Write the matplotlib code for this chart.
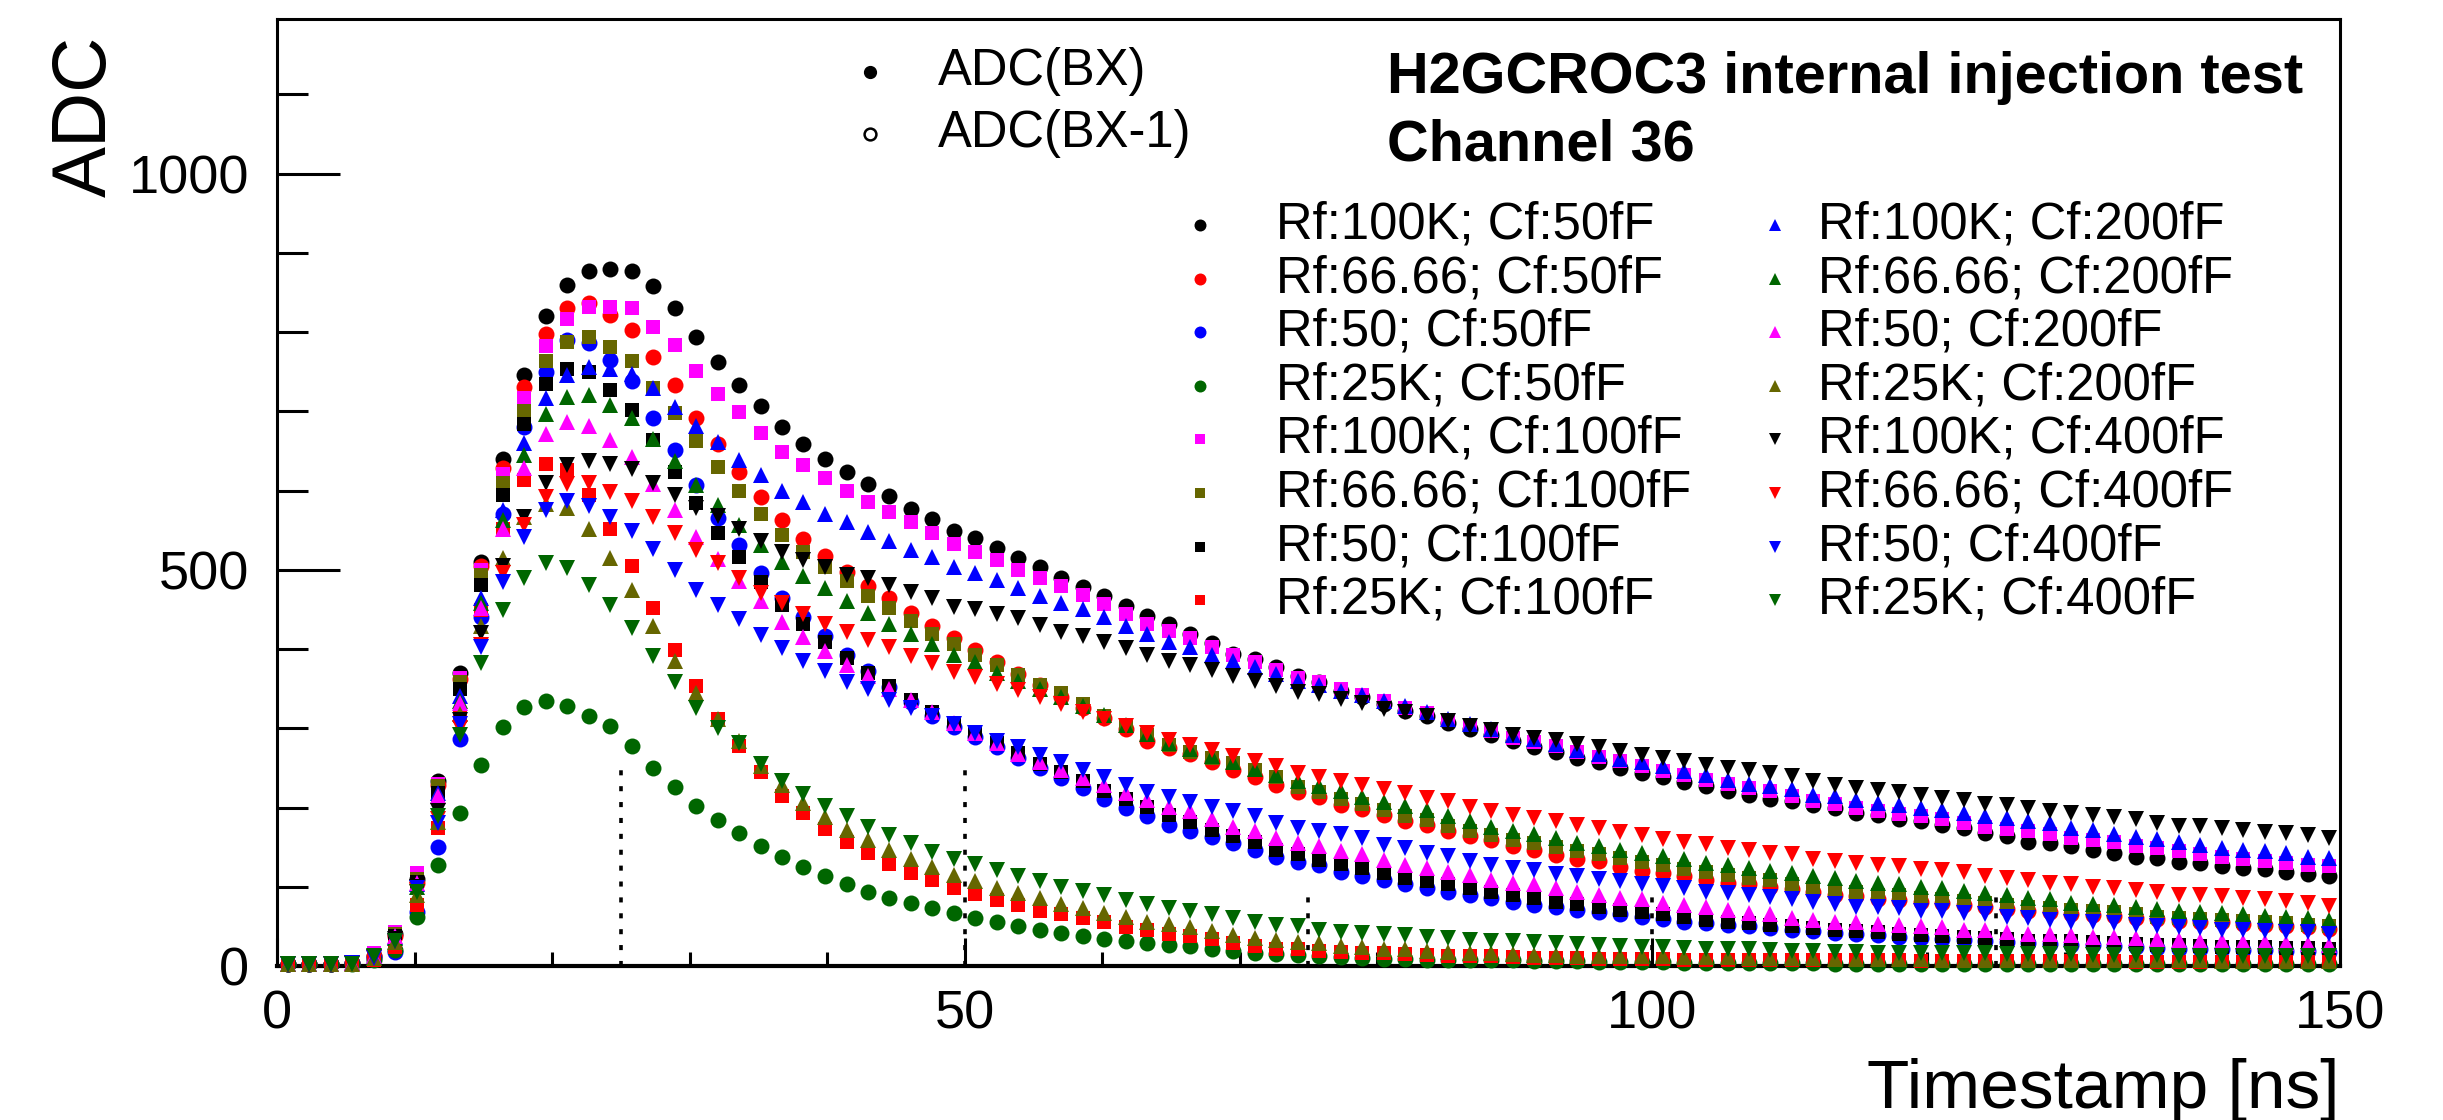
import matplotlib
matplotlib.use('Agg')
import matplotlib.pyplot as plt
from matplotlib.ticker import MultipleLocator

plt.rcParams['font.family'] = ['Liberation Sans', 'DejaVu Sans']

# Sampling points [ns] (one every 25/16 ns)
timestamp = [
    0.78, 2.34, 3.91, 5.47, 7.03, 8.59, 10.16, 11.72, 13.28, 14.84,
    16.41, 17.97, 19.53, 21.09, 22.66, 24.22, 25.78, 27.34, 28.91, 30.47,
    32.03, 33.59, 35.16, 36.72, 38.28, 39.84, 41.41, 42.97, 44.53, 46.09,
    47.66, 49.22, 50.78, 52.34, 53.91, 55.47, 57.03, 58.59, 60.16, 61.72,
    63.28, 64.84, 66.41, 67.97, 69.53, 71.09, 72.66, 74.22, 75.78, 77.34,
    78.91, 80.47, 82.03, 83.59, 85.16, 86.72, 88.28, 89.84, 91.41, 92.97,
    94.53, 96.09, 97.66, 99.22, 100.78, 102.34, 103.91, 105.47, 107.03, 108.59,
    110.16, 111.72, 113.28, 114.84, 116.41, 117.97, 119.53, 121.09, 122.66, 124.22,
    125.78, 127.34, 128.91, 130.47, 132.03, 133.59, 135.16, 136.72, 138.28, 139.84,
    141.41, 142.97, 144.53, 146.09, 147.66, 149.22,
]

# ADC(BX) per configuration
adc_100k_50 = [
    2, 2, 3, 4, 13, 40, 110, 234, 370, 510,
    640, 746, 820, 860, 877, 879, 877, 858, 830, 794,
    762, 733, 707, 680, 659, 640, 623, 608, 593, 577,
    564, 549, 540, 527, 515, 503, 490, 478, 467, 454,
    442, 431, 419, 408, 394, 387, 377, 366, 358, 347,
    339, 330, 322, 316, 307, 299, 292, 284, 276, 270,
    263, 257, 250, 244, 238, 232, 227, 221, 216, 211,
    208, 203, 200, 193, 190, 185, 183, 178, 174, 168,
    164, 157, 155, 152, 147, 143, 138, 136, 131, 130,
    126, 124, 122, 119, 116, 114,
]
adc_6666_50 = [
    2, 2, 3, 4, 12, 38, 105, 228, 362, 505,
    629, 731, 797, 830, 837, 822, 803, 769, 733, 692,
    659, 623, 592, 563, 539, 517, 497, 479, 464, 445,
    429, 414, 399, 383, 368, 354, 339, 326, 313, 299,
    284, 275, 267, 258, 247, 238, 228, 219, 213, 203,
    198, 191, 183, 178, 170, 164, 159, 152, 147, 140,
    135, 132, 125, 120, 117, 113, 109, 105, 103, 100,
    97, 93, 90, 88, 85, 83, 81, 79, 77, 74,
    72, 70, 68, 66, 64, 63, 61, 59, 57, 56,
    55, 53, 52, 50, 49, 47,
]
adc_50_50 = [
    2, 2, 3, 4, 10, 18, 68, 150, 287, 440,
    570, 680, 750, 790, 786, 765, 738, 692, 651, 607,
    565, 531, 496, 465, 440, 417, 393, 372, 352, 333,
    315, 302, 289, 276, 263, 250, 237, 224, 211, 200,
    189, 178, 170, 163, 155, 146, 138, 131, 127, 119,
    114, 109, 104, 98, 94, 90, 86, 81, 77, 75,
    71, 68, 65, 62, 59, 56, 54, 52, 50, 48,
    46, 44, 42, 40, 39, 37, 35, 34, 33, 31,
    30, 29, 28, 27, 26, 25, 24, 23, 22, 21,
    21, 20, 20, 19, 19, 18,
]
adc_25k_50 = [
    2, 2, 2, 3, 8, 20, 62, 127, 193, 254,
    301, 327, 334, 328, 316, 303, 277, 250, 226, 202,
    184, 168, 152, 138, 125, 113, 104, 94, 86, 79,
    73, 67, 61, 56, 51, 46, 42, 38, 34, 31,
    29, 27, 25, 22, 19, 17, 15, 14, 12, 11,
    10, 9, 9, 8, 8, 7, 7, 7, 6, 6,
    6, 5, 5, 5, 5, 4, 4, 4, 4, 4,
    4, 4, 3, 3, 3, 3, 3, 3, 3, 3,
    3, 3, 3, 2, 2, 2, 2, 2, 2, 2,
    2, 2, 2, 2, 2, 2,
]
adc_100k_100 = [
    2, 2, 3, 5, 16, 43, 117, 230, 364, 500,
    621, 717, 782, 816, 832, 831, 830, 807, 784, 751,
    722, 699, 673, 649, 632, 616, 600, 586, 573, 560,
    546, 533, 523, 512, 500, 490, 479, 468, 457, 444,
    432, 423, 414, 403, 392, 383, 373, 364, 358, 349,
    342, 335, 326, 319, 311, 304, 297, 288, 283, 277,
    270, 264, 259, 252, 246, 241, 235, 230, 225, 221,
    214, 208, 204, 200, 195, 192, 189, 186, 181, 176,
    173, 170, 167, 162, 159, 156, 152, 149, 145, 141,
    138, 135, 132, 130, 128, 126,
]
adc_6666_100 = [
    2, 2, 3, 4, 13, 40, 110, 227, 358, 494,
    610, 700, 763, 788, 794, 781, 763, 730, 698, 663,
    630, 599, 571, 544, 523, 503, 486, 467, 452, 435,
    419, 406, 393, 380, 367, 354, 344, 331, 316, 303,
    291, 279, 270, 262, 256, 247, 238, 226, 219, 211,
    205, 197, 189, 184, 177, 170, 165, 159, 155, 150,
    145, 141, 136, 131, 127, 122, 119, 115, 111, 108,
    103, 98, 95, 93, 90, 89, 86, 84, 82, 79,
    77, 75, 73, 71, 69, 68, 65, 62, 60, 59,
    58, 57, 56, 54, 52, 50,
]
adc_50_100 = [
    2, 2, 3, 4, 12, 38, 106, 218, 350, 481,
    595, 684, 734, 754, 750, 727, 702, 664, 623, 584,
    546, 516, 484, 455, 432, 409, 389, 370, 353, 336,
    320, 307, 294, 281, 269, 255, 245, 234, 221, 211,
    201, 190, 182, 172, 164, 156, 147, 141, 134, 129,
    124, 117, 111, 107, 103, 98, 94, 90, 86, 81,
    78, 74, 71, 68, 65, 62, 58, 56, 54, 52,
    50, 48, 46, 44, 43, 41, 39, 38, 37, 35,
    34, 32, 32, 31, 30, 29, 28, 27, 26, 25,
    24, 24, 24, 23, 23, 22,
]
adc_25k_100 = [
    2, 2, 2, 3, 8, 24, 77, 174, 315, 449,
    551, 613, 634, 626, 595, 551, 505, 452, 399, 353,
    312, 278, 245, 215, 193, 173, 156, 142, 129, 117,
    108, 98, 91, 83, 77, 70, 65, 60, 55, 49,
    45, 41, 38, 34, 29, 25, 22, 21, 19, 18,
    17, 16, 15, 14, 13, 13, 12, 11, 10, 10,
    10, 9, 9, 9, 9, 8, 8, 8, 8, 8,
    7, 7, 7, 7, 7, 7, 6, 6, 6, 6,
    6, 6, 6, 6, 6, 6, 5, 5, 5, 5,
    5, 5, 5, 5, 5, 5,
]
adc_100k_200 = [
    2, 2, 3, 4, 12, 37, 104, 218, 341, 464,
    575, 660, 717, 746, 756, 753, 747, 730, 705, 682,
    661, 639, 620, 600, 586, 570, 560, 548, 536, 525,
    516, 503, 496, 487, 477, 467, 458, 450, 440, 429,
    419, 409, 403, 393, 385, 377, 368, 360, 354, 347,
    342, 335, 328, 321, 312, 305, 299, 292, 286, 280,
    273, 267, 261, 257, 252, 246, 241, 235, 230, 227,
    223, 216, 214, 210, 206, 203, 200, 197, 193, 189,
    187, 183, 180, 174, 172, 166, 163, 160, 156, 153,
    149, 147, 145, 143, 138, 136,
]
adc_6666_200 = [
    2, 2, 3, 4, 11, 35, 100, 214, 335, 458,
    563, 645, 696, 718, 721, 708, 692, 665, 637, 607,
    582, 556, 531, 510, 492, 477, 461, 445, 432, 419,
    406, 393, 383, 370, 360, 350, 339, 328, 317, 304,
    293, 282, 274, 265, 257, 249, 241, 233, 227, 221,
    213, 207, 202, 197, 189, 183, 176, 170, 166, 162,
    155, 152, 147, 143, 139, 135, 130, 127, 124, 120,
    117, 113, 111, 107, 105, 103, 100, 98, 95, 92,
    90, 86, 84, 80, 78, 77, 74, 72, 70, 68,
    67, 65, 63, 62, 60, 58,
]
adc_50_200 = [
    2, 2, 3, 4, 13, 38, 105, 215, 332, 452,
    551, 629, 671, 687, 682, 664, 642, 608, 575, 542,
    513, 486, 460, 434, 415, 397, 380, 366, 349, 336,
    320, 307, 294, 281, 268, 258, 247, 237, 228, 218,
    209, 201, 195, 186, 176, 170, 162, 155, 152, 145,
    141, 134, 128, 124, 119, 115, 109, 105, 103, 98,
    94, 90, 86, 84, 79, 77, 75, 71, 67, 65,
    60, 58, 56, 55, 53, 52, 50, 49, 46, 46,
    43, 41, 40, 39, 37, 36, 35, 34, 33, 32,
    31, 30, 30, 29, 28, 27,
]
adc_25k_200 = [
    2, 2, 2, 3, 10, 30, 90, 182, 318, 429,
    515, 566, 583, 578, 551, 515, 474, 429, 385, 344,
    312, 284, 253, 228, 206, 188, 172, 159, 146, 135,
    125, 115, 107, 99, 92, 86, 78, 73, 67, 62,
    56, 53, 49, 44, 39, 35, 33, 30, 29, 25,
    24, 22, 21, 19, 18, 17, 16, 15, 14, 14,
    13, 13, 12, 12, 12, 11, 11, 11, 10, 10,
    10, 10, 9, 9, 9, 9, 9, 8, 8, 8,
    8, 8, 8, 7, 7, 7, 7, 7, 7, 7,
    6, 6, 6, 6, 6, 6,
]
adc_100k_400 = [
    2, 2, 3, 4, 11, 34, 100, 195, 310, 420,
    505, 566, 610, 632, 637, 633, 627, 610, 594, 578,
    568, 552, 536, 523, 512, 503, 494, 490, 481, 472,
    464, 453, 451, 444, 439, 430, 422, 417, 409, 401,
    393, 385, 380, 374, 366, 360, 353, 346, 343, 337,
    332, 324, 320, 316, 309, 303, 298, 292, 288, 285,
    280, 276, 271, 266, 263, 259, 254, 250, 247, 244,
    240, 234, 229, 225, 222, 219, 216, 212, 209, 205,
    203, 200, 195, 193, 191, 188, 185, 181, 177, 177,
    174, 172, 169, 168, 165, 161,
]
adc_6666_400 = [
    2, 2, 3, 4, 10, 32, 96, 185, 300, 405,
    496, 556, 592, 608, 609, 598, 587, 566, 547, 525,
    508, 490, 471, 458, 444, 432, 422, 411, 403, 391,
    382, 371, 365, 356, 348, 339, 331, 321, 312, 303,
    294, 285, 279, 272, 265, 259, 252, 244, 239, 233,
    228, 223, 218, 212, 208, 201, 195, 191, 187, 183,
    178, 174, 169, 165, 160, 156, 154, 149, 147, 143,
    141, 135, 132, 130, 128, 126, 122, 121, 118, 114,
    111, 109, 105, 103, 100, 98, 96, 94, 90, 89,
    88, 86, 84, 82, 80, 76,
]
adc_50_400 = [
    2, 2, 3, 4, 10, 32, 98, 180, 306, 402,
    484, 541, 575, 587, 581, 566, 549, 526, 500, 475,
    455, 438, 418, 401, 385, 372, 359, 349, 336, 326,
    315, 305, 294, 284, 276, 266, 257, 247, 239, 229,
    220, 213, 207, 201, 195, 189, 181, 174, 170, 166,
    162, 153, 149, 143, 139, 132, 128, 124, 121, 116,
    113, 110, 107, 104, 101, 98, 94, 92, 89, 87,
    84, 81, 78, 75, 74, 73, 70, 69, 67, 65,
    62, 60, 58, 56, 55, 54, 52, 50, 49, 48,
    46, 46, 44, 43, 43, 41,
]
adc_25k_400 = [
    2, 2, 2, 3, 12, 31, 94, 189, 291, 382,
    449, 490, 508, 502, 481, 455, 426, 391, 358, 326,
    300, 281, 255, 234, 217, 202, 189, 176, 165, 155,
    144, 135, 129, 121, 113, 107, 100, 95, 89, 83,
    78, 73, 69, 65, 60, 56, 52, 50, 46, 43,
    42, 41, 39, 37, 35, 33, 32, 31, 30, 29,
    28, 27, 25, 24, 24, 23, 22, 21, 21, 20,
    19, 19, 18, 18, 17, 17, 17, 16, 16, 16,
    15, 15, 15, 15, 14, 14, 14, 14, 13, 13,
    13, 13, 13, 12, 12, 12,
]

labels = [
    'Rf:100K; Cf:50fF', 'Rf:66.66; Cf:50fF', 'Rf:50; Cf:50fF', 'Rf:25K; Cf:50fF',
    'Rf:100K; Cf:100fF', 'Rf:66.66; Cf:100fF', 'Rf:50; Cf:100fF', 'Rf:25K; Cf:100fF',
    'Rf:100K; Cf:200fF', 'Rf:66.66; Cf:200fF', 'Rf:50; Cf:200fF', 'Rf:25K; Cf:200fF',
    'Rf:100K; Cf:400fF', 'Rf:66.66; Cf:400fF', 'Rf:50; Cf:400fF', 'Rf:25K; Cf:400fF',
]
values = [
    adc_100k_50, adc_6666_50, adc_50_50, adc_25k_50,
    adc_100k_100, adc_6666_100, adc_50_100, adc_25k_100,
    adc_100k_200, adc_6666_200, adc_50_200, adc_25k_200,
    adc_100k_400, adc_6666_400, adc_50_400, adc_25k_400,
]

# BX boundaries (dotted markers)
bx_edges   = [25, 50, 75, 100, 125]
bx_heights = [250, 250, 100, 100, 100]

# ROOT-like colours: kBlack, kRed, kBlue, kGreen+3, kMagenta, olive
colors  = ['black', 'red', 'blue', '#006600',
           'magenta', '#666600', 'black', 'red',
           'blue', '#006600', 'magenta', '#666600',
           'black', 'red', 'blue', '#006600']
markers = ['o'] * 4 + ['s'] * 4 + ['^'] * 4 + ['v'] * 4
msizes  = {'o': 11.5, 's': 10.5, '^': 12.0, 'v': 12.0}

fig = plt.figure(figsize=(24.43, 11.2), dpi=100)
ax = fig.add_axes([0.1134, 0.1375, 0.8444, 0.8455])

for vals, c, m in zip(values, colors, markers):
    ax.plot(timestamp, vals, ls='none', marker=m, ms=msizes[m],
            mfc=c, mec=c, mew=0, clip_on=False, zorder=3)

ax.vlines(bx_edges, 0, bx_heights, colors='black', lw=2.6,
          linestyles=(0, (1.4, 3.0)), zorder=4)

ax.set_xlim(0, 150)
ax.set_ylim(0, 1195)
ax.xaxis.set_major_locator(MultipleLocator(50))
ax.xaxis.set_minor_locator(MultipleLocator(10))
ax.yaxis.set_major_locator(MultipleLocator(500))
ax.yaxis.set_minor_locator(MultipleLocator(100))
ax.tick_params(axis='both', which='both', direction='in', top=False, right=False,
               width=2.2, labelsize=39)
ax.tick_params(axis='y', which='major', length=45, pad=20)
ax.tick_params(axis='y', which='minor', length=22)
ax.tick_params(axis='x', which='major', length=20, pad=17)
ax.tick_params(axis='x', which='minor', length=10)
for sp in ax.spines.values():
    sp.set_linewidth(2.2)
ax.spines['bottom'].set_linewidth(3.0)

fig.text(0.0352, 0.968, 'ADC', rotation=90, ha='center', va='top', fontsize=55)
fig.text(0.9578, 0.0107, 'Timestamp [ns]', ha='right', va='baseline', fontsize=50)

# header
fig.text(0.5677, 0.9304, 'H2GCROC3 internal injection test', ha='left', va='center',
         fontsize=41.5, fontweight='bold')
fig.text(0.5677, 0.8705, 'Channel 36', ha='left', va='center',
         fontsize=41.5, fontweight='bold')

# BX legend
bx_rows = [0.9442, 0.8788]
ax.plot([0.2874], [bx_rows[0]], 'o', ms=8.5, color='black', transform=ax.transAxes,
        clip_on=False)
ax.plot([0.2874], [bx_rows[1]], 'o', ms=8.5, mfc='white', mec='black', mew=1.8,
        transform=ax.transAxes, clip_on=False)
ax.text(0.3206, bx_rows[0], 'ADC(BX)', transform=ax.transAxes, ha='left', va='center',
        fontsize=36.5)
ax.text(0.3206, bx_rows[1], 'ADC(BX-1)', transform=ax.transAxes, ha='left', va='center',
        fontsize=36.5)

# configuration legend, two columns of eight
col_marker = [0.4474, 0.7261]
col_text   = [0.4843, 0.7470]
for i, (lab, c, m) in enumerate(zip(labels, colors, markers)):
    col, row = divmod(i, 8)
    y = 1 - (225 + 53.6 * row - 19) / 947
    ax.plot([col_marker[col]], [y], ls='none', marker=m, ms=msizes[m] * 0.75,
            mfc=c, mec=c, mew=0, transform=ax.transAxes, clip_on=False)
    ax.text(col_text[col], y, lab, transform=ax.transAxes, ha='left', va='center',
            fontsize=36.5)

fig.savefig('out.png', dpi=100)
